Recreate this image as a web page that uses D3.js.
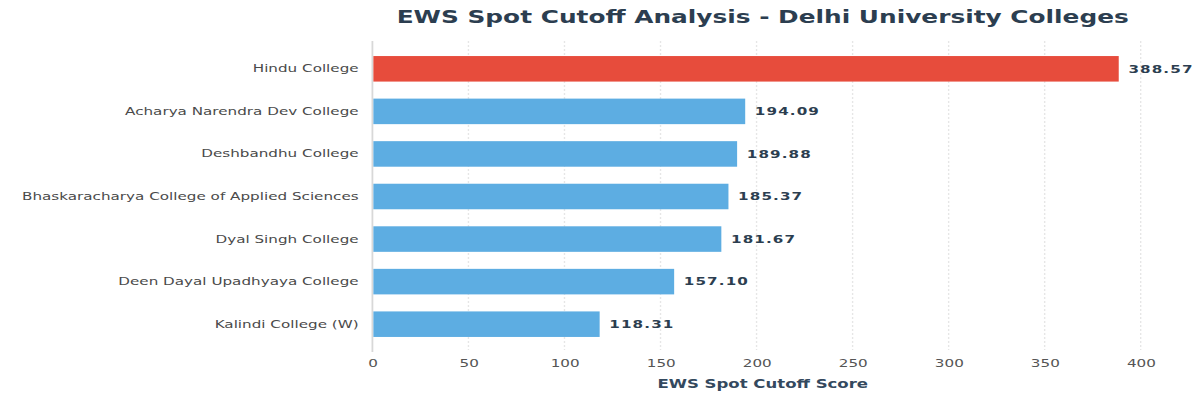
<!DOCTYPE html>
<html>
<head>
<meta charset="utf-8">
<script src="https://cdn.jsdelivr.net/npm/d3@7"></script>
<style>
  body { margin: 0; background: #fff; }
  text { font-family: "DejaVu Sans", sans-serif; }
</style>
</head>
<body>
<div id="vis"></div>
<script>
// chart data
const COLLEGES = [
  "Hindu College",
  "Acharya Narendra Dev College",
  "Deshbandhu College",
  "Bhaskaracharya College of Applied Sciences",
  "Dyal Singh College",
  "Deen Dayal Upadhyaya College",
  "Kalindi College (W)"
];
const SCORES = [388.57, 194.09, 189.88, 185.37, 181.67, 157.10, 118.31];
const X_TICKS = [0, 50, 100, 150, 200, 250, 300, 350, 400];

// the picture looks horizontally stretched, so draw in a narrower box and stretch it
const VB_WIDTH = 870;
const FRAME_HEIGHT = 400;
const FRAME_WIDTH = 1200;
const MARGINS = {left: 270, right: 43, top: 41, bottom: 50};
const CENTER_X = 553;

const data = COLLEGES.map((c, i) => ({college: c, score: SCORES[i]}));

const FRAME = d3.select("#vis")
  .append("svg")
  .attr("width", FRAME_WIDTH)
  .attr("height", FRAME_HEIGHT)
  .attr("viewBox", `0 0 ${VB_WIDTH} ${FRAME_HEIGHT}`)
  .attr("preserveAspectRatio", "none");

const X_SCALE = d3.scaleLinear()
  .domain([0, 400])
  .range([MARGINS.left, VB_WIDTH - MARGINS.right]);

const Y_SCALE = d3.scaleBand()
  .domain(COLLEGES)
  .range([MARGINS.top + 1, FRAME_HEIGHT - MARGINS.bottom + 1])
  .paddingInner(0.4)
  .paddingOuter(0.33);

// title
FRAME.append("text")
  .attr("x", CENTER_X)
  .attr("y", 23)
  .attr("text-anchor", "middle")
  .attr("font-size", 18)
  .attr("font-weight", "bold")
  .attr("fill", "#2c3e50")
  .text("EWS Spot Cutoff Analysis - Delhi University Colleges");

// vertical grid lines
FRAME.append("g")
  .selectAll("line")
  .data(X_TICKS.slice(1))
  .enter()
  .append("line")
    .attr("x1", d => X_SCALE(d))
    .attr("x2", d => X_SCALE(d))
    .attr("y1", MARGINS.top)
    .attr("y2", FRAME_HEIGHT - MARGINS.bottom)
    .attr("stroke", "#e6e6e6")
    .attr("stroke-dasharray", "2,2");

// left axis line
FRAME.append("line")
  .attr("x1", X_SCALE(0))
  .attr("x2", X_SCALE(0))
  .attr("y1", MARGINS.top)
  .attr("y2", FRAME_HEIGHT - MARGINS.bottom + 2)
  .attr("stroke", "#d8d8d8")
  .attr("stroke-width", 1.3);

// x axis (labels only)
const xAxis = FRAME.append("g")
  .attr("transform", "translate(0," + (FRAME_HEIGHT - MARGINS.bottom) + ")")
  .call(d3.axisBottom(X_SCALE).tickValues(X_TICKS).tickSize(0).tickPadding(9));
xAxis.select(".domain").remove();
xAxis.selectAll("text")
  .attr("font-size", 11)
  .attr("font-family", "DejaVu Sans, sans-serif")
  .attr("fill", "#555");

// y axis labels
const yAxis = FRAME.append("g")
  .attr("transform", "translate(" + MARGINS.left + ",0)")
  .call(d3.axisLeft(Y_SCALE).tickSize(0).tickPadding(10));
yAxis.select(".domain").remove();
yAxis.selectAll("text")
  .attr("font-size", 11)
  .attr("font-family", "DejaVu Sans, sans-serif")
  .attr("fill", "#4a4a4a");

// bars
FRAME.selectAll(".bar")
  .data(data)
  .enter()
  .append("rect")
    .attr("class", "bar")
    .attr("x", X_SCALE(0) + 0.7)
    .attr("y", d => Y_SCALE(d.college))
    .attr("width", d => X_SCALE(d.score) - X_SCALE(0) - 0.7)
    .attr("height", Y_SCALE.bandwidth())
    .attr("fill", (d, i) => i === 0 ? "#e74c3c" : "#5dade2");

// value labels
FRAME.selectAll(".val")
  .data(data)
  .enter()
  .append("text")
    .attr("class", "val")
    .attr("x", d => X_SCALE(d.score) + 7)
    .attr("y", d => Y_SCALE(d.college) + Y_SCALE.bandwidth() / 2)
    .attr("dy", "0.35em")
    .attr("font-size", 11)
    .attr("font-weight", "bold")
    .attr("letter-spacing", 0.8)
    .attr("fill", "#2c3e50")
    .text(d => d.score.toFixed(2));

// x axis title
FRAME.append("text")
  .attr("x", CENTER_X)
  .attr("y", 388)
  .attr("text-anchor", "middle")
  .attr("font-size", 12)
  .attr("font-weight", "bold")
  .attr("fill", "#34495e")
  .text("EWS Spot Cutoff Score");
</script>
</body>
</html>
